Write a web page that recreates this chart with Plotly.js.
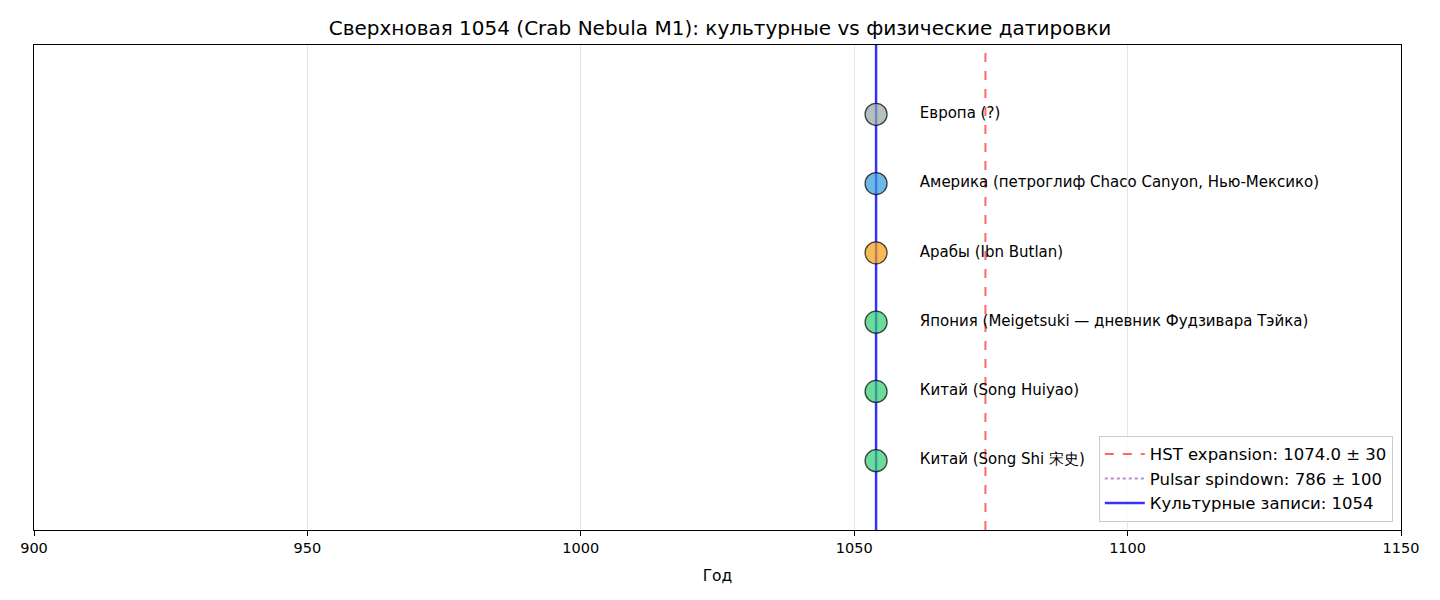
<!DOCTYPE html>
<html>
<head>
<meta charset="utf-8">
<script src="https://cdn.plot.ly/plotly-3.0.1.min.js"></script>
<style>
  html, body { margin: 0; padding: 0; background: white; }
  #plot { width: 1440px; height: 600px; }
</style>
</head>
<body>
<div id="plot"></div>
<script>
// Data
const sources = [
  'Китай (Song Shi 宋史)',
  'Китай (Song Huiyao)',
  'Япония (Meigetsuki — дневник Фудзивара Тэйка)',
  'Арабы (Ibn Butlan)',
  'Америка (петроглиф Chaco Canyon, Нью-Мексико)',
  'Европа (?)'
];
const sourceYears = [1054, 1054, 1054, 1054, 1054, 1054];
const sourceRows = [0, 1, 2, 3, 4, 5];
const sourceColors = [
  'rgba(46,204,113,0.7)',
  'rgba(46,204,113,0.7)',
  'rgba(46,204,113,0.7)',
  'rgba(243,156,18,0.7)',
  'rgba(52,152,219,0.7)',
  'rgba(149,165,166,0.7)'
];
const culturalYear = 1054;
const hstYear = 1074.0, hstErr = 30;
const pulsarYear = 786, pulsarErr = 100;
const labelOffset = 8;
const yRange = [-1, 6];

// Helpers
function makeVLine(x, color, dash, width, name) {
  return {
    x: [x, x], y: yRange,
    type: 'scatter', mode: 'lines',
    line: { color, dash, width },
    name, hoverinfo: 'skip'
  };
}

const hst = makeVLine(hstYear, 'rgba(255,0,0,0.6)', 'dash', 2, `HST expansion: ${hstYear.toFixed(1)} ± ${hstErr}`);
const pulsar = makeVLine(pulsarYear, 'rgba(155,89,182,0.7)', 'dot', 2, `Pulsar spindown: ${pulsarYear} ± ${pulsarErr}`);
const cultural = makeVLine(culturalYear, 'rgba(0,0,255,0.8)', 'solid', 2.5, `Культурные записи: ${culturalYear}`);

const points = {
  x: sourceYears, y: sourceRows,
  type: 'scatter', mode: 'markers',
  marker: { size: 22, color: sourceColors, line: { color: 'rgba(0,0,0,0.7)', width: 1.3 } },
  showlegend: false, hoverinfo: 'skip'
};

const labels = {
  x: sourceYears.map(v => v + labelOffset), y: sourceRows,
  type: 'scatter', mode: 'text',
  text: sources, textposition: 'middle right',
  textfont: { size: 15, color: 'black', family: 'DejaVu Sans' },
  showlegend: false, hoverinfo: 'skip', cliponaxis: false
};

const layout = {
  width: 1440, height: 600,
  margin: { l: 34, r: 39, t: 45, b: 70 },
  paper_bgcolor: 'white', plot_bgcolor: 'white',
  font: { family: 'DejaVu Sans', size: 14, color: 'black' },
  title: { text: 'Сверхновая 1054 (Crab Nebula M1): культурные vs физические датировки',
           font: { size: 20 }, x: 0.5, xanchor: 'center', y: 0.953, yanchor: 'middle' },
  xaxis: {
    range: [900, 1150], tickvals: [900, 950, 1000, 1050, 1100, 1150],
    showgrid: true, gridcolor: 'rgba(0,0,0,0.1)', gridwidth: 1,
    zeroline: false, showline: true, linecolor: 'black', linewidth: 1, mirror: true,
    ticks: 'outside', ticklen: 5, tickcolor: 'black',
    tickfont: { size: 14.5 },
    title: { text: 'Год', font: { size: 15.5 }, standoff: 14 }
  },
  yaxis: {
    range: yRange, showgrid: false, zeroline: false, showticklabels: false,
    showline: true, linecolor: 'black', linewidth: 1, mirror: true, ticks: ''
  },
  legend: {
    x: 0.994, xanchor: 'right', y: 0.017, yanchor: 'bottom',
    bgcolor: 'rgba(255,255,255,0.8)', bordercolor: '#cccccc', borderwidth: 1,
    font: { size: 16.5 }, itemwidth: 40, tracegroupgap: 0
  },
  showlegend: true
};

Plotly.newPlot('plot', [hst, pulsar, cultural, points, labels], layout, { staticPlot: true });
</script>
</body>
</html>
